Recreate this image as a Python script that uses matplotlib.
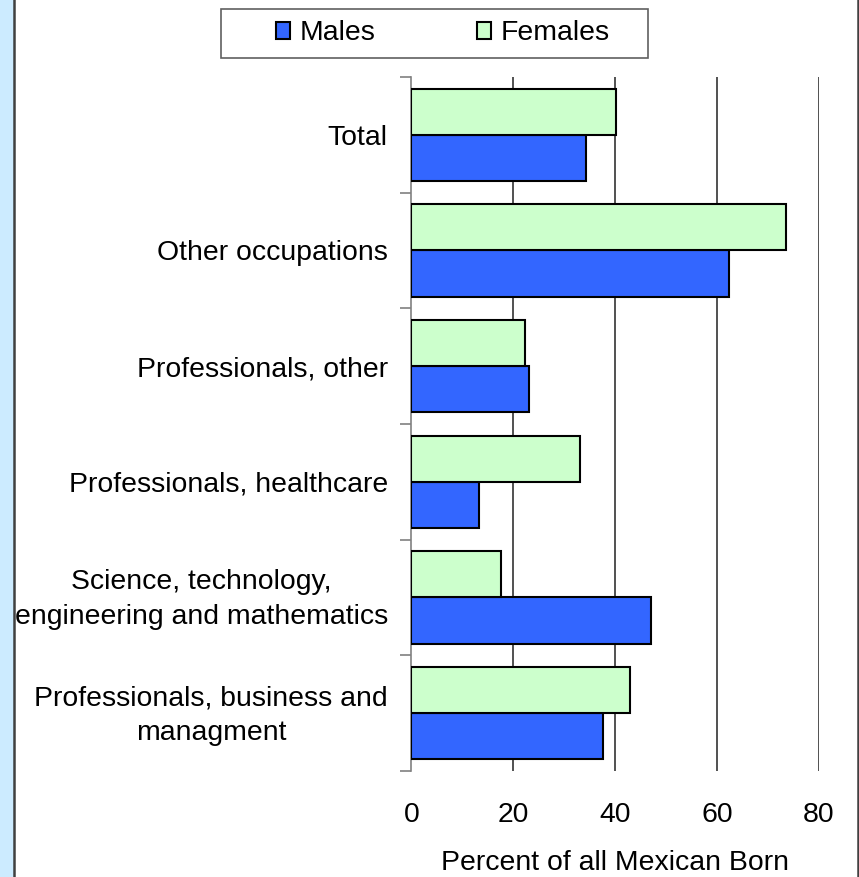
import matplotlib.pyplot as plt
import numpy as np
from matplotlib.patches import Rectangle
from matplotlib.lines import Line2D
from matplotlib.transforms import ScaledTranslation

plt.rcParams["font.family"] = ["Liberation Sans", "DejaVu Sans"]

categorias = [
    "Professionals, business and\nmanagment",
    "Science, technology,\nengineering and mathematics",
    "Professionals, healthcare",
    "Professionals, other",
    "Other occupations",
    "Total",
]
hombres = [37.6, 47.0, 13.2, 23.1, 62.4, 34.2]
mujeres = [42.8, 17.5, 33.0, 22.2, 73.6, 40.2]
ticksX = [0, 20, 40, 60, 80]

azul = "#3366FF"
verde = "#CCFFCC"
tamano = 20.4

fig = plt.figure(figsize=(8.59, 8.77), dpi=100)
ax = fig.add_axes([0.479, 0.1209, 0.4745, 0.7913])

# marco del fondo
fig.patches.append(Rectangle((0, 0), 13.5 / 859, 1, transform=fig.transFigure,
                             facecolor="#CCEBFF", edgecolor="none", zorder=0))
fig.lines.append(Line2D([14 / 859, 14 / 859], [0, 1], transform=fig.transFigure,
                        color="#404040", lw=1.8))
fig.lines.append(Line2D([857.5 / 859, 857.5 / 859], [0, 1], transform=fig.transFigure,
                        color="#404040", lw=1.8))

y = np.arange(len(categorias))
alto = 0.4
ax.barh(y - alto / 2, hombres, height=alto, color=azul, edgecolor="black",
        linewidth=1.5, label="Males", zorder=3)
ax.barh(y + alto / 2, mujeres, height=alto, color=verde, edgecolor="black",
        linewidth=1.5, label="Females", zorder=3)

ax.set_xlim(0, 80)
ax.set_ylim(-0.5, len(categorias) - 0.5)
ax.set_xticks(ticksX)
ax.set_xticklabels([str(t) for t in ticksX], fontsize=tamano)
ax.tick_params(axis="x", length=0, pad=22)

ax.set_yticks(y)
ax.set_yticklabels(categorias, fontsize=tamano, multialignment="center",
                   linespacing=1.45)
ax.set_yticks(np.arange(len(categorias) + 1) - 0.5, minor=True)
ax.tick_params(axis="y", which="major", length=0, pad=17)
ax.tick_params(axis="y", which="minor", length=8, color="#808080", width=1.2)

# subir un poco las etiquetas de dos lineas
for etiqueta in ax.get_yticklabels():
    if "\n" in etiqueta.get_text():
        etiqueta.set_transform(etiqueta.get_transform()
                               + ScaledTranslation(0, 0.05, fig.dpi_scale_trans))

for t in ticksX[1:]:
    ax.axvline(t, color="#222222", lw=1.1, zorder=1)

for s in ["top", "right", "bottom"]:
    ax.spines[s].set_visible(False)
ax.spines["left"].set_color("#808080")
ax.spines["left"].set_linewidth(1.2)

ax.set_xlabel("Percent of all Mexican Born", fontsize=tamano, labelpad=16)

# marco de la leyenda
fig.patches.append(Rectangle((221 / 859, 1 - 58 / 877), 427 / 859, 49 / 877,
                             transform=fig.transFigure, facecolor="white",
                             edgecolor="#606060", lw=1.2, zorder=1))
fig.legend(
    handles=[
        Rectangle((0, 0), 1, 1, facecolor=azul, edgecolor="black", lw=1.5),
        Rectangle((0, 0), 1, 1, facecolor=verde, edgecolor="black", lw=1.5),
    ],
    labels=["Males", "Females"],
    loc="center left",
    bbox_to_anchor=(276 / 859, 1 - 33.5 / 877),
    ncol=2,
    fontsize=tamano,
    frameon=False,
    handlelength=0.5,
    handleheight=0.5,
    handletextpad=0.35,
    columnspacing=3.55,
    borderpad=0,
    borderaxespad=0,
)

fig.savefig("out.png", dpi=100)
